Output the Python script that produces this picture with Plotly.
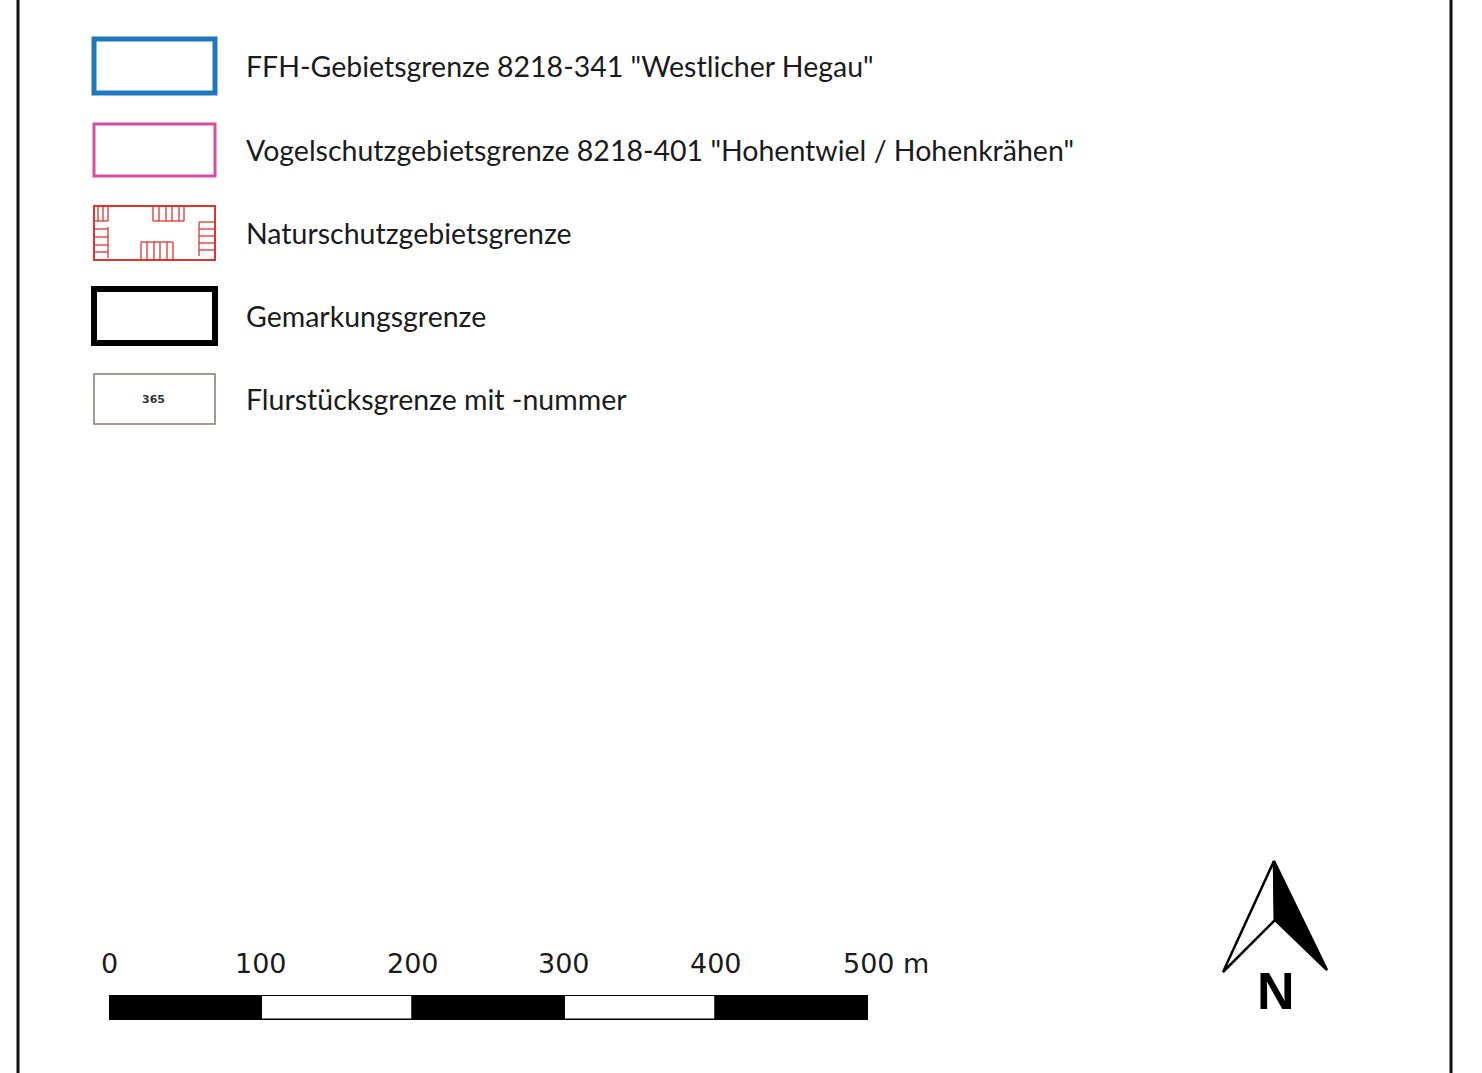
import plotly.graph_objects as go

W, H = 1482, 1073

# ---------------- data ----------------
legend_labels = [
    'FFH-Gebietsgrenze 8218-341 "Westlicher Hegau"',
    'Vogelschutzgebietsgrenze 8218-401 "Hohentwiel / Hohenkrähen"',
    'Naturschutzgebietsgrenze',
    'Gemarkungsgrenze',
    'Flurstücksgrenze mit -nummer',
]
parcel_number = "365"
scale_ticks = [0, 100, 200, 300, 400, 500]
scale_unit = "m"
north_label = "N"

# ---------------- layout constants ----------------
TEXT_FONT = "Lato"
TEXT_COLOR = "#1b1b1b"
row_y = [66, 150, 233, 316, 399]
sym_x0, sym_x1 = 94, 215
sym_h = [54, 52, 54, 54, 50]
label_x = 244

shapes = []
annotations = []

# page borders
for bx in (18, 1451):
    shapes.append(dict(type="line", xref="x", yref="y", x0=bx, x1=bx, y0=0, y1=H,
                       line=dict(color="#111111", width=3)))

# legend symbols
sym_styles = [
    dict(color="#1f78be", width=5),
    dict(color="#d4509c", width=3),
    dict(color="#e0342c", width=2),
    dict(color="#000000", width=6),
    dict(color="#857a74", width=1.5),
]
for i, (cy, st, h) in enumerate(zip(row_y, sym_styles, sym_h)):
    shapes.append(dict(type="rect", xref="x", yref="y", x0=sym_x0, x1=sym_x1,
                       y0=cy - h / 2, y1=cy + h / 2,
                       line=dict(color=st["color"], width=st["width"]),
                       fillcolor="rgba(0,0,0,0)"))
    annotations.append(dict(x=label_x, y=cy, xref="x", yref="y", text=legend_labels[i],
                            showarrow=False, xanchor="left", yanchor="middle",
                            font=dict(family=TEXT_FONT, size=28.5, color=TEXT_COLOR)))

# hatching inside the nature-reserve symbol
red = "#e0342c"
def seg(x0, y0, x1, y1, w=1.3):
    shapes.append(dict(type="line", xref="x", yref="y", x0=x0, y0=y0, x1=x1, y1=y1,
                       line=dict(color=red, width=w)))
# top-left block
for x in (98, 103, 108):
    seg(x, 206, x, 221)
seg(95, 221, 108, 221)
# top middle block
for x in (153, 159, 166, 172, 179, 184):
    seg(x, 206, x, 221)
seg(153, 221, 184, 221)
# left side ladder
seg(108, 227, 108, 258)
for y in (229, 237, 245, 252):
    seg(95, y, 108, y)
# right side ladder
seg(199, 222, 199, 256)
for y in (222, 229, 236, 243, 250):
    seg(199, y, 214, y)
# bottom middle block
seg(141, 242, 173, 242)
for x in (141, 147, 154, 160, 167, 173):
    seg(x, 242, x, 259)

# parcel number
annotations.append(dict(x=153, y=399, xref="x", yref="y", text="<b>" + parcel_number + "</b>",
                        showarrow=False,
                        font=dict(family="DejaVu Sans", size=11, color="#333333"),
                        xanchor="center", yanchor="middle"))

# ---------------- scale bar (own metre axis) ----------------
bar_px0, bar_px1 = 109, 868
bar_top, bar_bot = 995, 1020
starts = scale_ticks[:-1]
widths = [b - a for a, b in zip(scale_ticks[:-1], scale_ticks[1:])]
fills = ["#000000" if i % 2 == 0 else "#ffffff" for i in range(len(starts))]

bar = go.Bar(x=widths, base=starts, y=["s"] * len(starts), orientation="h",
             marker=dict(color=fills, line=dict(color="#000000", width=2.5)),
             xaxis="x2", yaxis="y2", width=1, hoverinfo="skip", showlegend=False)

for i, t in enumerate(scale_ticks):
    txt = str(t)
    if i == len(scale_ticks) - 1:
        annotations.append(dict(x=t, y=963, xref="x2", yref="y", text=txt + " " + scale_unit,
                                showarrow=False, xanchor="left", xshift=-27, yanchor="middle",
                                font=dict(family="DejaVu Sans", size=27, color=TEXT_COLOR)))
    else:
        annotations.append(dict(x=t, y=963, xref="x2", yref="y", text=txt, showarrow=False,
                                xanchor="center", yanchor="middle",
                                font=dict(family="DejaVu Sans", size=27, color=TEXT_COLOR)))

# ---------------- north arrow ----------------
tip = (1274, 861)
inner = (1275, 920)
lb = (1223, 972)
rb = (1327, 970)
shapes.append(dict(type="path", xref="x", yref="y",
                   path=f"M{tip[0]},{tip[1]} L{lb[0]},{lb[1]} L{inner[0]},{inner[1]} Z",
                   fillcolor="#ffffff", line=dict(color="#000000", width=2.5)))
shapes.append(dict(type="path", xref="x", yref="y",
                   path=f"M{tip[0]},{tip[1]} L{rb[0]},{rb[1]} L{inner[0]},{inner[1]} Z",
                   fillcolor="#000000", line=dict(color="#000000", width=2.5)))
annotations.append(dict(x=1276, y=991, xref="x", yref="y", text="<b>" + north_label + "</b>",
                        showarrow=False, xanchor="center", yanchor="middle",
                        font=dict(family="Liberation Sans", size=52, color="#000000")))

# dummy invisible trace to anchor pixel axes
base = go.Scatter(x=[0, W], y=[0, H], mode="markers", marker=dict(opacity=0),
                  hoverinfo="skip", showlegend=False)

fig = go.Figure([base, bar])
fig.update_layout(
    width=W, height=H, margin=dict(l=0, r=0, t=0, b=0),
    paper_bgcolor="#ffffff", plot_bgcolor="#ffffff",
    xaxis=dict(range=[0, W], visible=False, fixedrange=True, domain=[0, 1]),
    yaxis=dict(range=[H, 0], visible=False, fixedrange=True, domain=[0, 1]),
    xaxis2=dict(range=[0, scale_ticks[-1]], domain=[bar_px0 / W, bar_px1 / W],
                visible=False, anchor="y2", fixedrange=True),
    yaxis2=dict(domain=[1 - bar_bot / H, 1 - bar_top / H], visible=False,
                anchor="x2", fixedrange=True, range=[-0.5, 0.5]),
    barmode="overlay", bargap=0,
    shapes=shapes, annotations=annotations, showlegend=False,
)
fig.write_html("out.html", config={"displayModeBar": False},
               post_script="document.body.style.margin='0';document.body.style.overflow='hidden';")
